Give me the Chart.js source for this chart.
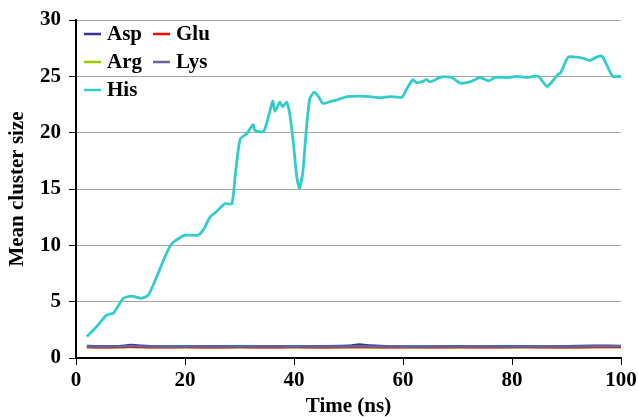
<!DOCTYPE html>
<html>
<head>
<meta charset="utf-8">
<script src="https://cdn.jsdelivr.net/npm/chart.js@4/dist/chart.umd.min.js"></script>
<style>
  html, body { margin: 0; padding: 0; background: #fff; }
  #wrap { width: 638px; height: 417px; }
</style>
</head>
<body>
<div id="wrap"><canvas id="clusterChart" width="638" height="417"></canvas></div>
<script>
// His trace (time in ns, mean cluster size)
const hisTime = [2, 3.8, 5.6, 6.9, 8.7, 10.2, 12, 13.3, 14.8, 15.7, 16.9, 17.9, 20, 22.4, 23.4, 24.6, 25.8, 27.3, 28.6, 29.2,
  30.1, 31.3, 32.5, 32.8, 34.4, 35.3, 36.1, 36.5, 37.4, 37.9, 38.7, 39.3, 39.9, 40.5, 41.0, 41.6, 42.3, 42.9, 43.7, 44.5,
  45.3, 46.6, 47.8, 49.7, 52.1, 53.9, 55.8, 57.6, 59.8, 60.7, 61.8, 62.5, 63.4, 64.3, 65, 65.9, 67.1, 68.9, 70.5, 72.3,
  73.2, 74.1, 75.7, 76.9, 79.6, 80.9, 82.7, 84.8, 86.4, 87.3, 88.5, 88.9, 90.3, 91.9, 93.1, 94.3, 95.5, 96.5, 97.4, 98.5, 100];
const hisSize = [1.9, 2.8, 3.8, 4.0, 5.3, 5.5, 5.3, 5.6, 7.2, 8.25, 9.6, 10.3, 10.9, 10.9, 11.4, 12.5, 13.0, 13.7, 13.7, 16.1,
  19.4, 19.9, 20.7, 20.2, 20.1, 21.4, 22.8, 21.9, 22.7, 22.3, 22.7, 21.4, 19.0, 16.1, 15.05, 16.4, 20.5, 23.0, 23.6, 23.2,
  22.6, 22.75, 22.9, 23.2, 23.25, 23.2, 23.1, 23.2, 23.15, 23.9, 24.7, 24.45, 24.5, 24.7, 24.5, 24.7, 24.95, 24.9, 24.4, 24.5,
  24.7, 24.9, 24.6, 24.9, 24.9, 25.0, 24.9, 25.0, 24.1, 24.5, 25.2, 25.3, 26.7, 26.7, 26.6, 26.4, 26.7, 26.8, 26.0, 25.0, 25.0];

// the other residues stay around 1
const flatTime = [2, 5, 8, 10, 12, 15, 20, 25, 30, 35, 40, 45, 50, 52, 54, 58, 62, 66, 70, 75, 80, 85, 90, 95, 100];
const aspSize = [1.06, 1.04, 1.05, 1.15, 1.08, 1.03, 1.03, 1.04, 1.03, 1.04, 1.03, 1.05, 1.08, 1.2, 1.1, 1.03, 1.02, 1.03, 1.04, 1.03, 1.04, 1.03, 1.05, 1.08, 1.07];
const gluSize = [0.97, 0.96, 0.97, 1.0, 0.97, 0.96, 0.97, 0.96, 0.97, 0.96, 0.97, 0.96, 0.97, 0.98, 0.97, 0.96, 0.97, 0.96, 0.97, 0.96, 0.97, 0.96, 0.96, 0.97, 0.97];
const argSize = [0.95, 0.94, 0.95, 0.98, 0.96, 0.97, 0.95, 0.94, 0.95, 0.96, 0.95, 0.94, 0.95, 0.95, 0.94, 0.95, 0.94, 0.95, 0.94, 0.95, 0.94, 0.95, 0.94, 0.96, 0.97];
const lysSize = [1.02, 1.01, 1.02, 1.06, 1.03, 1.01, 1.01, 1.02, 1.01, 1.02, 1.01, 1.02, 1.02, 1.05, 1.03, 1.01, 1.01, 1.02, 1.01, 1.02, 1.01, 1.02, 1.02, 1.04, 1.04];

const yTicks = [0, 5, 10, 15, 20, 25, 30];
const xTicks = [0, 20, 40, 60, 80, 100];

const serif = '"Liberation Serif", "Times New Roman", serif';
const bold21 = { family: serif, size: 21, weight: 'bold' };

function pts(t, v) {
  return t.map((x, i) => ({ x: x, y: v[i] }));
}

// legend drawn inside the plot, two columns
const insideLegend = {
  id: 'insideLegend',
  afterDatasetsDraw(chart) {
    const ctx = chart.ctx;
    ctx.save();
    ctx.font = 'bold 21px ' + serif;
    ctx.textBaseline = 'middle';
    ctx.fillStyle = '#000';
    chart.data.datasets.forEach((ds, i) => {
      const col = i % 2, row = Math.floor(i / 2);
      const x = 84 + col * 69;
      const y = 34 + row * 28;
      ctx.strokeStyle = ds.borderColor;
      ctx.lineWidth = 2.5;
      ctx.beginPath();
      ctx.moveTo(x, y);
      ctx.lineTo(x + 17, y);
      ctx.stroke();
      ctx.fillText(ds.label, x + 23, y + 1);
    });
    ctx.restore();
  }
};

const ctx = document.getElementById('clusterChart').getContext('2d');
new Chart(ctx, {
  type: 'line',
  data: {
    datasets: [
      { label: 'Asp', data: pts(flatTime, aspSize), borderColor: '#333399', order: 3 },
      { label: 'Glu', data: pts(flatTime, gluSize), borderColor: '#FF0000', order: 4 },
      { label: 'Arg', data: pts(flatTime, argSize), borderColor: '#99CC00', order: 5 },
      { label: 'Lys', data: pts(flatTime, lysSize), borderColor: '#666699', order: 2 },
      { label: 'His', data: pts(hisTime, hisSize), borderColor: '#33CCCC', borderWidth: 2.8, order: 1 }
    ]
  },
  options: {
    responsive: false,
    animation: false,
    layout: { padding: { left: 0, right: 17, top: 20, bottom: 0 } },
    elements: {
      point: { radius: 0 },
      line: { borderWidth: 2.5, tension: 0.2 }
    },
    plugins: {
      legend: { display: false },
      tooltip: { enabled: false }
    },
    scales: {
      x: {
        type: 'linear',
        min: 0,
        max: 100,
        afterFit(scale) { scale.height = 59; scale.paddingLeft = 0; scale.paddingRight = 0; },
        afterBuildTicks(scale) { scale.ticks = xTicks.map(v => ({ value: v })); },
        grid: { drawOnChartArea: false, tickColor: '#000', tickLength: 7 },
        border: { color: '#000', width: 2 },
        ticks: { color: '#000', padding: 3, maxRotation: 0, font: bold21 },
        title: { display: true, text: 'Time (ns)', color: '#000', padding: { top: 0, bottom: -2 }, font: bold21 }
      },
      y: {
        min: 0,
        max: 30,
        afterFit(scale) { scale.width = 76; scale.paddingTop = 0; scale.paddingBottom = 0; },
        afterBuildTicks(scale) { scale.ticks = yTicks.map(v => ({ value: v })); },
        grid: { color: '#a6a6a6', lineWidth: 1, tickColor: '#000', tickLength: 7 },
        border: { color: '#000', width: 2 },
        ticks: { color: '#000', padding: 8, font: bold21 },
        title: { display: true, text: 'Mean cluster size', color: '#000', padding: { top: 5, bottom: 0 }, font: bold21 }
      }
    }
  },
  plugins: [insideLegend]
});
</script>
</body>
</html>
